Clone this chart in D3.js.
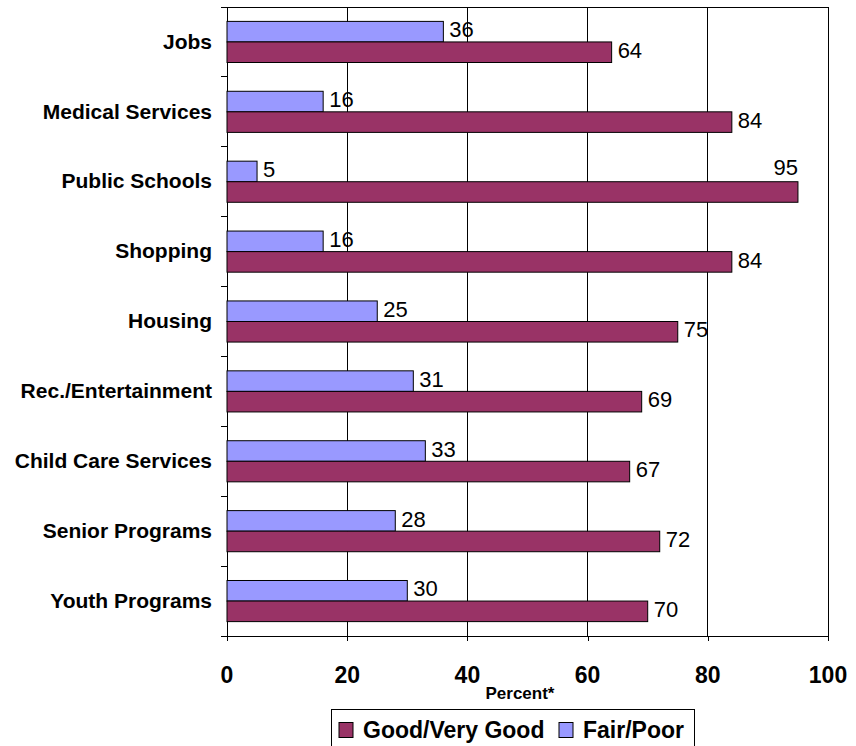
<!DOCTYPE html>
<html>
<head>
<meta charset="utf-8">
<script src="https://cdn.jsdelivr.net/npm/d3@7"></script>
<style>
    body { margin: 0; background: #fff; }
    svg { display: block; font-family: Arial, "Liberation Sans", sans-serif; }
</style>
</head>
<body>
<div id="chart"></div>
<script>
// Survey ratings of local services - grouped horizontal bars

const categories = ["Jobs", "Medical Services", "Public Schools", "Shopping", "Housing",
    "Rec./Entertainment", "Child Care Services", "Senior Programs", "Youth Programs"];
const fairPoor = [36, 16, 5, 16, 25, 31, 33, 28, 30];
const goodVeryGood = [64, 84, 95, 84, 75, 69, 67, 72, 70];
const xTicks = [0, 20, 40, 60, 80, 100];
const seriesNames = ["Good/Very Good", "Fair/Poor"];

const COLORS = { good: "#993366", fair: "#9999FF" };

const width = 856, height = 746;
const plot = { left: 227, right: 828, top: 7, bottom: 636 };

const svg = d3.select("#chart").append("svg")
    .attr("width", width)
    .attr("height", height);

// Scales
const x = d3.scaleLinear().domain([0, 100]).range([plot.left, plot.right]);
const y = d3.scaleBand().domain(categories).range([plot.top, plot.bottom]).padding(0);
const sub = d3.scaleBand().domain(["fair", "good"]).range([0, y.bandwidth()])
    .paddingInner(0).paddingOuter(0.7);

// Gridlines
svg.append("g")
    .selectAll("line")
    .data(xTicks.slice(1, -1))
    .join("line")
    .attr("x1", d => x(d)).attr("x2", d => x(d))
    .attr("y1", plot.top).attr("y2", plot.bottom)
    .attr("stroke", "#000")
    .attr("stroke-width", 1)
    .attr("shape-rendering", "crispEdges");

// Plot frame
svg.append("rect")
    .attr("x", plot.left).attr("y", plot.top)
    .attr("width", plot.right - plot.left)
    .attr("height", plot.bottom - plot.top)
    .attr("fill", "none")
    .attr("stroke", "#000")
    .attr("shape-rendering", "crispEdges");

// Bottom axis ticks
const xAxis = svg.append("g")
    .attr("transform", `translate(0,${plot.bottom})`)
    .call(d3.axisBottom(x).tickValues(xTicks).tickSize(5).tickFormat(""));
xAxis.select(".domain").remove();
xAxis.selectAll("line").attr("stroke", "#000").attr("shape-rendering", "crispEdges");

svg.append("g")
    .selectAll("text")
    .data(xTicks)
    .join("text")
    .attr("x", d => x(d))
    .attr("y", 683)
    .attr("text-anchor", "middle")
    .style("font-size", "23px")
    .style("font-weight", "bold")
    .text(d => d);

// Left axis: category labels + ticks at band boundaries
const yAxis = svg.append("g")
    .attr("transform", `translate(${plot.left},0)`)
    .call(d3.axisLeft(y).tickSize(0).tickPadding(15));
yAxis.select(".domain").remove();
yAxis.selectAll("text")
    .style("font-size", "21px")
    .style("font-weight", "bold")
    .attr("fill", "#000");

svg.append("g")
    .selectAll("line")
    .data(categories.map(c => y(c)).concat([plot.bottom]))
    .join("line")
    .attr("x1", plot.left - 6).attr("x2", plot.left)
    .attr("y1", d => d).attr("y2", d => d)
    .attr("stroke", "#000")
    .attr("shape-rendering", "crispEdges");

// Bars
const rows = categories.map((c, i) => ({ cat: c, fair: fairPoor[i], good: goodVeryGood[i] }));

const groups = svg.append("g")
    .selectAll("g")
    .data(rows)
    .join("g")
    .attr("transform", d => `translate(0,${y(d.cat)})`);

["fair", "good"].forEach(key => {
    groups.append("rect")
        .attr("x", x(0))
        .attr("y", sub(key))
        .attr("width", d => x(d[key]) - x(0))
        .attr("height", sub.bandwidth())
        .attr("fill", COLORS[key])
        .attr("stroke", "#000")
        .attr("stroke-width", 1);

    groups.append("text")
        .attr("class", "value-label")
        .attr("x", d => x(d[key]) + 6)
        .attr("y", sub(key) + sub.bandwidth() / 2 - 2)
        .attr("dy", "0.35em")
        .style("font-size", "22px")
        .attr("fill", "#000")
        .text(d => d[key])
        .each(function(d) {
            // labels that would run past the plot edge sit above the bar, right-aligned
            const w = this.getComputedTextLength();
            if (x(d[key]) + 6 + w > plot.right) {
                d3.select(this)
                    .attr("x", x(d[key]))
                    .attr("text-anchor", "end")
                    .attr("y", sub(key) - sub.bandwidth() / 2 - 4);
            }
        });
});

// Axis title
svg.append("text")
    .attr("x", 520)
    .attr("y", 699)
    .attr("text-anchor", "middle")
    .style("font-size", "17px")
    .style("font-weight", "bold")
    .text("Percent*");

// Legend
const legend = svg.append("g").attr("transform", "translate(331,709)");
legend.append("rect")
    .attr("x", 0).attr("y", 0)
    .attr("width", 363).attr("height", 50)
    .attr("fill", "#fff")
    .attr("stroke", "#000")
    .attr("shape-rendering", "crispEdges");

const legendItems = [
    { name: seriesNames[0], color: COLORS.good, x: 8 },
    { name: seriesNames[1], color: COLORS.fair, x: 228 }
];
const li = legend.selectAll("g.item")
    .data(legendItems)
    .join("g")
    .attr("class", "item")
    .attr("transform", d => `translate(${d.x},0)`);
li.append("rect")
    .attr("x", 0).attr("y", 13.5)
    .attr("width", 14).attr("height", 15)
    .attr("fill", d => d.color)
    .attr("stroke", "#000");
li.append("text")
    .attr("x", 24)
    .attr("y", 29)
    .style("font-size", "23px")
    .style("font-weight", "bold")
    .text(d => d.name);
</script>
</body>
</html>
